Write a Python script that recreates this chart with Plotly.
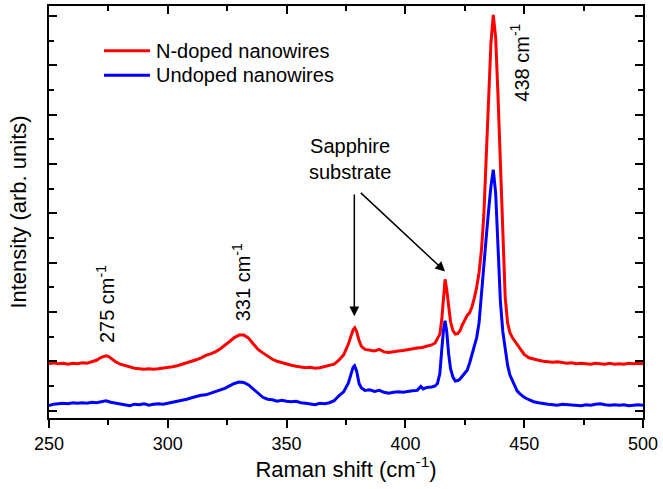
import plotly.graph_objects as go

# ---------------- data ----------------
n_doped_x = [250, 252, 254, 256, 258, 260, 262, 264, 266, 268, 270, 272, 274, 275, 276, 278,
             280, 282, 284, 286, 288, 290, 292, 294, 296, 298, 300, 302, 304, 306, 308, 310,
             312, 314, 316, 318, 320, 322, 324, 326, 328, 330, 332, 334, 336, 338, 340, 342,
             344, 346, 348, 350, 352, 354, 356, 358, 360, 362, 364, 366, 368, 370, 372, 374,
             376, 377, 378, 378.7, 379.5, 380.5, 381.5, 383, 385, 387, 389, 391, 393, 395, 397,
             399, 401, 403, 405, 407, 409, 411, 412.5, 413.5, 414.5, 415.3, 416.0, 416.7, 417.4,
             418.2, 419, 420, 421, 422, 423, 424, 425, 426, 427, 428, 429, 430, 431, 432, 433,
             434, 435, 436, 437, 438, 439, 440, 441, 442, 443, 444, 445, 446, 447, 448, 449,
             450, 452, 454, 456, 458, 460, 462, 464, 466, 468, 470, 472, 474, 476, 478, 480,
             482, 484, 486, 488, 490, 492, 494, 496, 498, 500]
n_doped_y = [0.95, 0.97, 0.95, 0.96, 0.94, 0.96, 0.95, 0.97, 0.96, 0.99, 1.02, 1.08, 1.11, 1.10, 1.06, 0.99,
             0.94, 0.91, 0.88, 0.86, 0.85, 0.84, 0.85, 0.84, 0.85, 0.86, 0.87, 0.89, 0.91, 0.94, 0.97, 0.99,
             1.03, 1.07, 1.12, 1.15, 1.19, 1.25, 1.32, 1.40, 1.48, 1.53, 1.53, 1.47, 1.35, 1.24, 1.17, 1.10,
             1.04, 1.00, 0.97, 0.95, 0.92, 0.90, 0.88, 0.87, 0.88, 0.86, 0.87, 0.89, 0.92, 0.94, 1.02, 1.13,
             1.35, 1.50, 1.64, 1.68, 1.60, 1.42, 1.30, 1.24, 1.22, 1.21, 1.24, 1.19, 1.18, 1.20, 1.21,
             1.22, 1.24, 1.25, 1.27, 1.28, 1.31, 1.33, 1.37, 1.45, 1.55, 1.84, 2.35, 2.66, 2.45,
             2.05, 1.80, 1.62, 1.55, 1.56, 1.62, 1.74, 1.85, 1.93, 1.98, 2.10, 2.28, 2.50, 2.80, 3.25, 3.95,
             5.05, 6.35, 7.45, 8.02, 7.55, 6.35, 4.85, 3.40, 2.30, 1.78, 1.58, 1.48, 1.41, 1.35, 1.27, 1.20,
             1.14, 1.07, 1.04, 1.02, 1.00, 0.99, 0.98, 0.99, 0.97, 0.96, 0.97, 0.95, 0.96, 0.95, 0.94, 0.96,
             0.95, 0.94, 0.96, 0.94, 0.95, 0.94, 0.96, 0.95, 0.96, 0.95]

undoped_x = [250, 252, 254, 256, 258, 260, 262, 264, 266, 268, 270, 272, 274, 276, 278, 280,
             282, 284, 286, 288, 290, 292, 294, 296, 298, 300, 302, 304, 306, 308, 310, 312,
             314, 316, 318, 320, 322, 324, 326, 328, 330, 332, 334, 336, 338, 340, 342, 344,
             346, 348, 350, 352, 354, 356, 358, 360, 362, 364, 366, 368, 370, 372, 374, 376,
             377, 378, 378.6, 379.5, 380.5, 381.5, 383, 385, 387, 389, 391, 393, 395, 397, 399,
             401, 403, 405, 406.5, 407.5, 409, 411, 412.5, 413.5, 414.5, 415.3, 416.0, 416.7, 417.4,
             418.2, 419, 420, 421, 422, 423, 424, 425, 426, 427, 428, 429, 430, 431, 432, 433,
             434, 435, 436, 437, 438, 439, 440, 441, 442, 443, 444, 445, 446, 447, 448, 449,
             450, 452, 454, 456, 458, 460, 462, 464, 466, 468, 470, 472, 474, 476, 478, 480,
             482, 484, 486, 488, 490, 492, 494, 496, 498, 500]
undoped_y = [0.10, 0.13, 0.14, 0.15, 0.14, 0.16, 0.15, 0.16, 0.15, 0.17, 0.16, 0.18, 0.20, 0.17, 0.15, 0.14,
             0.12, 0.10, 0.13, 0.12, 0.14, 0.11, 0.13, 0.14, 0.13, 0.15, 0.16, 0.18, 0.20, 0.23, 0.26, 0.29,
             0.31, 0.32, 0.35, 0.38, 0.41, 0.45, 0.50, 0.55, 0.58, 0.57, 0.52, 0.43, 0.34, 0.27, 0.23, 0.22,
             0.19, 0.21, 0.19, 0.18, 0.19, 0.16, 0.15, 0.13, 0.12, 0.15, 0.14, 0.16, 0.20, 0.30, 0.38, 0.56,
             0.72, 0.88, 0.91, 0.80, 0.55, 0.46, 0.41, 0.42, 0.39, 0.41, 0.37, 0.35, 0.37, 0.38, 0.37,
             0.39, 0.40, 0.41, 0.49, 0.44, 0.47, 0.48, 0.50, 0.55, 0.75, 1.23, 1.62, 1.82, 1.60,
             1.15, 0.85, 0.68, 0.60, 0.61, 0.64, 0.70, 0.76, 0.82, 0.96, 1.12, 1.30, 1.48, 1.78, 2.30, 2.85,
             3.50, 4.05, 4.55, 4.88, 4.40, 3.30, 2.20, 1.60, 1.20, 0.92, 0.72, 0.60, 0.50, 0.40, 0.35, 0.31,
             0.27, 0.22, 0.18, 0.16, 0.14, 0.13, 0.12, 0.11, 0.13, 0.12, 0.12, 0.11, 0.10, 0.12, 0.11, 0.13,
             0.14, 0.12, 0.11, 0.12, 0.11, 0.12, 0.10, 0.11, 0.12, 0.11]

series_names = ["N-doped nanowires", "Undoped nanowires"]
series_colors = ["#ff0000", "#0000ff"]

x_range = [250, 500]
y_range = [-0.15, 8.2]
x_tick_vals = [250, 300, 350, 400, 450, 500]
x_tick_text = ["250", "300", "350", "400", "450", "500"]

# peak labels: (text, x, y)
peak_labels = [("275 cm<sup>-1</sup>", 273.6, 2.16),
               ("331 cm<sup>-1</sup>", 330.8, 2.60),
               ("438 cm<sup>-1</sup>", 448.2, 7.05)]
substrate_label = ("Sapphire<br>substrate", 376.7, 5.10)
# arrows: (tail_x, tail_y, tip_x, tip_y)
substrate_arrows = [(378.5, 4.41, 378.5, 1.91),
                    (380.6, 4.44, 416.7, 2.82)]

FONT = "Liberation Sans, Arial, sans-serif"

fig = go.Figure()
for xs, ys, nm, col in [(n_doped_x, n_doped_y, series_names[0], series_colors[0]),
                        (undoped_x, undoped_y, series_names[1], series_colors[1])]:
    fig.add_trace(go.Scatter(x=xs, y=ys, mode="lines", name=nm, showlegend=False,
                             line=dict(color=col, width=3)))

annotations = []
shapes = []

# legend drawn in paper coordinates (key line + label), one row per series
legend_rows_y = [0.8915, 0.8318]
for nm, col, ly in zip(series_names, series_colors, legend_rows_y):
    shapes.append(dict(type="line", xref="paper", yref="paper", x0=0.0926, x1=0.170,
                       y0=ly, y1=ly, line=dict(color=col, width=3)))
    annotations.append(dict(x=0.1775, y=ly, xref="paper", yref="paper", text=nm,
                            showarrow=False, xanchor="left", yanchor="middle",
                            font=dict(size=20, color="black", family=FONT)))

for txt, xx, yy in peak_labels:
    annotations.append(dict(x=xx, y=yy, xref="x", yref="y", text=txt, showarrow=False,
                            textangle=-90, xanchor="center", yanchor="middle",
                            font=dict(size=20, color="black", family=FONT)))
annotations.append(dict(x=substrate_label[1], y=substrate_label[2], xref="x", yref="y",
                        text=substrate_label[0], showarrow=False, align="center",
                        xanchor="center", yanchor="middle",
                        font=dict(size=20, color="black", family=FONT)))
for tx, ty, hx, hy in substrate_arrows:
    annotations.append(dict(x=hx, y=hy, xref="x", yref="y", ax=tx, ay=ty, axref="x", ayref="y",
                            text="", showarrow=True, arrowhead=2, arrowsize=1.3,
                            arrowwidth=1.5, arrowcolor="black", standoff=0, startstandoff=0))

fig.update_layout(
    width=663, height=489,
    margin=dict(l=49, r=20, t=6, b=71, pad=0),
    paper_bgcolor="white", plot_bgcolor="white",
    font=dict(family=FONT, color="black"),
    showlegend=False,
    annotations=annotations,
    shapes=shapes,
    xaxis=dict(range=x_range, tickmode="array", tickvals=x_tick_vals, ticktext=x_tick_text,
               showgrid=False, zeroline=False, showline=True, linecolor="black", linewidth=1.8,
               ticks="outside", ticklen=8, tickwidth=1.5, tickcolor="black",
               minor=dict(ticks="outside", dtick=25, tick0=250, ticklen=5, tickwidth=1.5,
                          tickcolor="black", showgrid=False),
               tickfont=dict(size=18, family=FONT, color="black"),
               title=dict(text="Raman shift (cm<sup>-1</sup>)", standoff=7,
                          font=dict(size=22, family=FONT, color="black"))),
    xaxis2=dict(range=x_range, overlaying="x", side="top", matches="x",
                tickmode="array", tickvals=x_tick_vals, showticklabels=False,
                showgrid=False, zeroline=False, showline=True, linecolor="black", linewidth=1.8,
                ticks="inside", ticklen=8, tickwidth=1.5, tickcolor="black",
                minor=dict(ticks="inside", dtick=25, tick0=250, ticklen=5, tickwidth=1.5,
                           tickcolor="black", showgrid=False)),
    yaxis=dict(range=y_range, tick0=0, dtick=1, showticklabels=False,
               showgrid=False, zeroline=False, showline=True, linecolor="black", linewidth=1.8,
               mirror="ticks", ticks="inside", ticklen=8, tickwidth=1.5, tickcolor="black",
               minor=dict(ticks="inside", dtick=0.5, tick0=0, ticklen=5, tickwidth=1.5,
                          tickcolor="black", showgrid=False),
               title=dict(text="Intensity (arb. units)", standoff=14,
                          font=dict(size=22, family=FONT, color="black"))),
)

# invisible helper trace so the top axis is drawn
fig.add_trace(go.Scatter(x=[x_range[0]], y=[y_range[0]], xaxis="x2", mode="markers",
                         marker=dict(opacity=0), showlegend=False, hoverinfo="skip"))

fig.write_html("out.html")
